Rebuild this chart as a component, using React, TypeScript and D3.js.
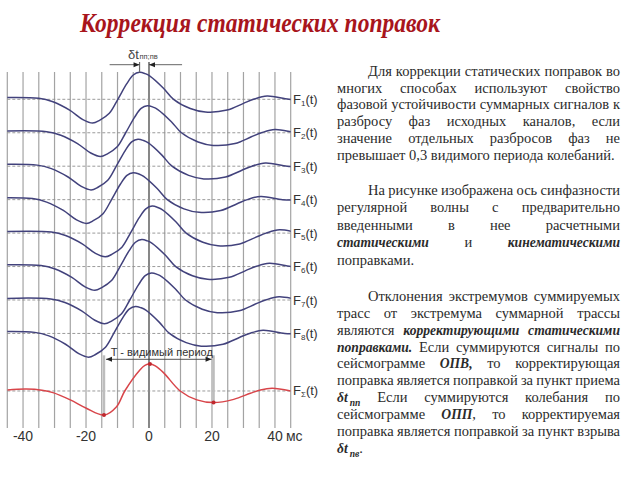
import React from "react";
import * as d3 from "d3";

// ---------- DATA ----------
const TITLE = "Коррекция  статических поправок";
const xTickValues = [-40, -20, 0, 20, 40];
const xTickLabels = ["-40", "-20", "0", "20", "40"];
const UNIT = "мс";
const traceNames = ["1", "2", "3", "4", "5", "6", "7", "8"];
// time shift (ms) of each trace's main peak
const traceShifts = [-3, -0.5, -3.5, -5, 1, -2.3, 0.8, -4.3];
const waveTau = [-52, -32, -27.5, -22.2, -18, -14.9, -12.7, -9.6, -6.9, -4.1, -2, 0, 1.8, 3.3, 7.6, 10.8, 16.1, 20.9, 27.8, 33, 36.2, 40.5, 47.4, 52];
const waveAmp = [0.04, 0.04, -0.09, -0.4, -0.75, -0.88, -0.78, -0.52, 0, 0.57, 0.9, 1.0, 0.95, 0.86, 0.41, 0, -0.34, -0.47, -0.4, -0.15, 0, 0.12, 0, -0.02];
// summed trace F-sigma
const sumT = [-45, -39, -34, -30.5, -25, -19.9, -14.3, -10.3, -7.7, -2.9, -1.3, 0.3, 2, 4.6, 9.9, 15.2, 20.5, 26.9, 32.2, 35.4, 39.1, 45];
const sumA = [0.04, 0.07, 0.03, -0.06, -0.33, -0.64, -0.89, -0.58, 0, 0.78, 0.95, 1.0, 0.93, 0.68, 0, -0.33, -0.43, -0.31, -0.085, 0.04, 0.1, 0];
const sumMarks = [-14.3, 0.3, 20.5]; // red dots: trough, peak, trough
const PERIOD_LABEL = "T - видимый период";
const DT_LABEL = "δt";
const DT_SUB = "пп;пв";

const P1 = [
  "Для коррекции статических поправок во",
  "многих способах используют свойство",
  "фазовой устойчивости суммарных сигналов к",
  "разбросу фаз исходных каналов, если",
  "значение отдельных разбросов фаз не",
  "превышает 0,3 видимого периода колебаний.",
];
const P2 = [
  "На рисунке изображена ось синфазности",
  "регулярной волны с предварительно",
  "введенными в нее расчетными",
  "*статическими* и *кинематическими*",
  "поправками.",
];
const P3 = [
  "Отклонения экстремумов суммируемых",
  "трасс от экстремума суммарной трассы",
  "являются *корректирующими* *статическими*",
  "*поправками.* Если суммируются сигналы по",
  "сейсмограмме *ОПВ,* то корректирующая",
  "поправка является поправкой за пункт приема",
  "*δt_пп* Если суммируются колебания по",
  "сейсмограмме *ОПП*, то корректируемая",
  "поправка является поправкой за пункт взрыва",
  "*δt_пв*.",
];

// ---------- LAYOUT ----------
const W = 640, H = 480;
const x = d3.scaleLinear().domain([-45, 45]).range([7.3, 290.7]);
const rowY = d3.scaleLinear().domain([0, 1]).range([99.3, 132.75]);
const amp = d3.scaleLinear().domain([-1, 1]).range([27, -27]);
const SUM_ROW = 8.72;
const GRID_TOP = 72, GRID_BOTTOM = 428, ZERO_TOP = 62;
const TRACE_COLOR = "#42427c";
const SUM_COLOR = "#d8454a";
const GRID_COLOR = "#a3a3a3";
const TEXT_COLOR = "#2b2b2b";
const SERIF = "'Liberation Serif', 'Times New Roman', serif";
const SANS = "'Liberation Sans', Arial, sans-serif";
const FS = 14.5;
const FSB = 13.6;
const SUB_GAP = 2;

let _ctx: CanvasRenderingContext2D | null = null;
function measure(t: string, bold: boolean, size: number) {
  if (!_ctx) _ctx = document.createElement("canvas").getContext("2d");
  _ctx!.font = `${bold ? "italic bold " : ""}${size}px "Liberation Serif"`;
  return _ctx!.measureText(t).width;
}

type Piece = { t: string; bold: boolean; sub?: string };
function parseWord(w: string): Piece[] {
  const out: Piece[] = [];
  const re = /\*([^*]+)\*|([^*]+)/g;
  let m;
  while ((m = re.exec(w))) {
    if (m[1] !== undefined) {
      const [a, s] = m[1].split("_");
      out.push({ t: a, bold: true, sub: s });
    } else out.push({ t: m[2], bold: false });
  }
  return out;
}
const sizeOf = (p: Piece) => (p.bold ? FSB : FS);
function pieceWidth(p: Piece) {
  let w = measure(p.t, p.bold, sizeOf(p));
  if (p.sub) w += SUB_GAP + measure(p.sub, p.bold, FS * 0.66);
  return w;
}

function Paragraph({ lines, y0, step, left, right, indent, k }: any) {
  const els: any[] = [];
  lines.forEach((line: string, li: number) => {
    const words = line.split(" ").map(parseWord);
    const widths = words.map((ps) => d3.sum(ps, pieceWidth));
    const x0 = li === 0 ? left + indent : left;
    const last = li === lines.length - 1;
    const total = d3.sum(widths);
    const gap = last || words.length < 2 ? measure(" ", false, FS) : (right - x0 - total) / (words.length - 1);
    let cx = x0;
    const y = y0 + li * step;
    words.forEach((ps, wi) => {
      let px = cx;
      ps.forEach((p, pi) => {
        els.push(
          <text key={`${k}-${li}-${wi}-${pi}`} x={px} y={y} fontFamily={SERIF} fontSize={sizeOf(p)}
            fontStyle={p.bold ? "italic" : "normal"} fontWeight={p.bold ? "bold" : "normal"} fill={TEXT_COLOR}>{p.t}</text>
        );
        px += measure(p.t, p.bold, sizeOf(p));
        if (p.sub) {
          px += SUB_GAP;
          els.push(
            <text key={`${k}-${li}-${wi}-${pi}s`} x={px} y={y + 4} fontFamily={SERIF} fontSize={FS * 0.66}
              fontStyle="italic" fontWeight="bold" fill={TEXT_COLOR}>{p.sub}</text>
          );
          px += measure(p.sub, p.bold, FS * 0.66);
        }
      });
      cx += widths[wi] + gap;
    });
  });
  return <g>{els}</g>;
}

function arrowHead(tipX: number, y: number, dir: number, len = 6, half = 2.5) {
  return `M${tipX},${y}L${tipX - dir * len},${y - half}L${tipX - dir * len},${y + half}Z`;
}

export default function App() {
  const gridTimes = d3.range(-45, 46, 5);
  const wave = waveTau.map((t, i) => [t, waveAmp[i]] as [number, number]);
  const line = (row: number) =>
    d3.line<[number, number]>().x((d) => x(d[0])).y((d) => rowY(row) + amp(d[1])).curve(d3.curveCatmullRom.alpha(0.5));
  const sumPts = sumT.map((t, i) => [t, sumA[i]] as [number, number]);
  const sumY = (t: number) => rowY(SUM_ROW) + amp(sumA[sumT.indexOf(t)]);
  const tL = sumMarks[0], tR = sumMarks[2];
  const arrowY = 359.3;
  const dtY = 64.7;

  return (
    <svg width={W} height={H} style={{ position: "absolute", left: 0, top: 0, background: "#fff" }}>
      <defs>
        <clipPath id="plotclip">
          <rect x={x(-45)} y={0} width={x(45) - x(-45)} height={H} />
        </clipPath>
      </defs>
      {/* Title */}
      <text x={260} y={32} textAnchor="middle" fontFamily={SERIF} fontSize={27} fontWeight="bold" fontStyle="italic" fill="#a8151c"
        textLength={360} lengthAdjust="spacingAndGlyphs">
        {TITLE}
      </text>

      {/* grid */}
      {gridTimes.map((t) => (
        <line key={t} x1={x(t)} x2={x(t)} y1={t === 0 ? ZERO_TOP : GRID_TOP} y2={GRID_BOTTOM}
          stroke={t === 0 ? "#6a6a6a" : GRID_COLOR} strokeWidth={t === 0 ? 1.6 : 1.2} />
      ))}
      {/* baselines */}
      {[...traceNames.map((_, i) => i), SUM_ROW].map((r) => (
        <line key={r} x1={x(-45)} x2={x(45)} y1={rowY(r)} y2={rowY(r)} stroke="#8f8f8f" strokeWidth={0.9} strokeDasharray="3 2" />
      ))}

      {/* period bars */}
      <line x1={x(tL)} x2={x(tL)} y1={arrowY - 4} y2={sumY(tL)} stroke="#bdbdbd" strokeWidth={2.5} />
      <line x1={x(tR)} x2={x(tR)} y1={arrowY - 4} y2={sumY(tR)} stroke="#bdbdbd" strokeWidth={2.5} />

      {/* traces */}
      <g clipPath="url(#plotclip)">
        {traceShifts.map((s, i) => (
          <path key={i} d={line(i)(wave.map(([t, a]) => [t + s, a] as [number, number])) || ""} fill="none" stroke={TRACE_COLOR} strokeWidth={1.5} />
        ))}
        <path d={line(SUM_ROW)(sumPts) || ""} fill="none" stroke={SUM_COLOR} strokeWidth={1.5} />
      </g>
      {sumMarks.map((t) => (
        <circle key={t} cx={x(t)} cy={sumY(t)} r={2} fill="#c0282e" />
      ))}

      {/* period arrow */}
      <line x1={x(tL) + 2} x2={x(tR) - 2} y1={arrowY} y2={arrowY} stroke="#444" strokeWidth={0.9} />
      <path d={arrowHead(x(tL) + 2, arrowY, -1)} fill="#222" />
      <path d={arrowHead(x(tR) - 2, arrowY, 1)} fill="#222" />
      <text x={(x(tL) + x(tR)) / 2 + 3} y={arrowY - 3} textAnchor="middle" fontFamily={SANS} fontSize={11} fill="#333">{PERIOD_LABEL}</text>

      {/* delta t marker */}
      <line x1={x(traceShifts[0])} x2={x(traceShifts[0])} y1={ZERO_TOP} y2={rowY(0) + amp(1)} stroke="#6a6a6a" strokeWidth={1.2} />
      <line x1={x(-12.5)} x2={x(traceShifts[0])} y1={dtY} y2={dtY} stroke="#555" strokeWidth={0.9} />
      <path d={arrowHead(x(traceShifts[0]), dtY, 1)} fill="#222" />
      <line x1={x(0)} x2={x(10.5)} y1={dtY} y2={dtY} stroke="#555" strokeWidth={0.9} />
      <path d={arrowHead(x(0), dtY, -1)} fill="#222" />
      <text x={128} y={58.5} fontFamily={SANS} fontSize={13} fill="#444">{DT_LABEL}</text>
      <text x={139.5} y={58.5} fontFamily={SANS} fontSize={7.5} fill="#444">{DT_SUB}</text>

      {/* F labels */}
      {traceNames.map((n, i) => (
        <text key={n} x={293} y={rowY(i) + 4.5} fontFamily={SANS} fontSize={13} fill="#333">
          F<tspan fontSize={8} dy={2}>{n}</tspan><tspan dy={-2}>(t)</tspan>
        </text>
      ))}
      <text x={293} y={rowY(SUM_ROW) + 4.5} fontFamily={SANS} fontSize={13} fill="#333">
        F<tspan fontSize={8} dy={2}>Σ</tspan><tspan dy={-2}>(t)</tspan>
      </text>

      {/* x ticks */}
      {xTickValues.map((v, i) => (
        <text key={v} x={x(v)} y={441} textAnchor="middle" fontFamily={SANS} fontSize={14} fill="#333">{xTickLabels[i]}</text>
      ))}
      <text x={x(40) + 11} y={441} fontFamily={SANS} fontSize={14} fill="#333">{UNIT}</text>

      {/* paragraphs */}
      <Paragraph k="p1" lines={P1} y0={76} step={16.7} left={337} right={620} indent={31} />
      <Paragraph k="p2" lines={P2} y0={194.5} step={17.5} left={337} right={620} indent={31} />
      <Paragraph k="p3" lines={P3} y0={301} step={16.85} left={337} right={620} indent={31} />
    </svg>
  );
}
